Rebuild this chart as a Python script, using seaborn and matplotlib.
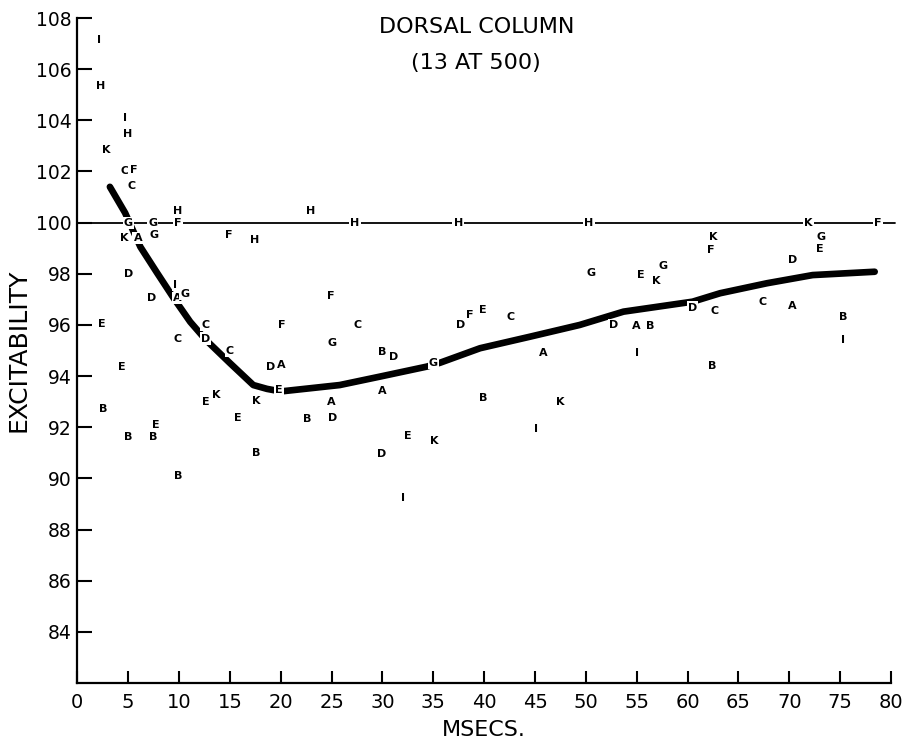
import matplotlib
matplotlib.use("Agg")
import matplotlib.pyplot as plt
import numpy as np
import pandas as pd
import seaborn as sns

# letters plotted as data points (one letter per subject)
pt_label = ["I", "H", "I", "H", "K", "C", "F", "C", "G", "G", "H", "F", "K", "A", "G", "F", "H",
            "D", "I", "A", "G", "D", "E", "F", "C", "C", "D", "C", "D", "A", "E", "E", "E", "K", "K",
            "E", "B", "E", "B", "B", "B", "B",
            "H", "H", "H",
            "F", "C", "G", "B", "D", "G", "D", "F", "E", "C", "A", "A", "A", "D", "B", "B", "K", "I",
            "E", "K", "D", "I",
            "H", "K", "F", "K", "F", "G", "E",
            "G", "E", "K", "G", "D", "D", "A", "B", "D", "C", "C", "A", "B", "I", "I", "B"]
pt_msec = [2.15, 2.25, 4.7, 4.9, 2.8, 4.6, 5.5, 5.3, 5.0, 7.4, 9.9, 9.9, 4.6, 5.95, 7.5, 14.9, 17.4,
           5.0, 9.6, 9.8, 10.6, 7.3, 2.45, 20.05, 12.6, 9.9, 12.6, 15.0, 19.05, 20.05, 4.4, 19.85, 12.6, 13.7, 17.6,
           15.8, 2.55, 7.7, 5.0, 7.5, 17.6, 9.96,
           22.9, 27.3, 37.45,
           24.95, 27.6, 25.0, 29.95, 31.05, 35.0, 37.65, 38.6, 39.9, 42.6, 45.8, 29.95, 25.0, 25.1, 22.6, 39.9, 47.5, 45.1,
           32.5, 35.1, 29.95, 32.0,
           50.3, 71.9, 78.7, 62.5, 62.3, 73.1, 73.0,
           50.5, 55.4, 56.9, 57.6, 70.3, 52.7, 55.0, 56.3, 60.5, 62.7, 67.4, 70.3, 75.3, 75.3, 55.0, 62.4]
pt_exc = [107.15, 105.35, 104.1, 103.45, 102.85, 102.0, 102.07, 101.45, 100.0, 100.0, 100.47, 100.0, 99.4, 99.4, 99.5, 99.5, 99.33,
          98.0, 97.55, 97.05, 97.2, 97.07, 96.05, 95.98, 96.0, 95.47, 95.47, 95.0, 94.34, 94.42, 94.37, 93.45, 93.0, 93.25, 93.04,
          92.38, 92.7, 92.07, 91.6, 91.6, 90.98, 90.08,
          100.47, 100.0, 100.0,
          97.15, 96.0, 95.3, 94.96, 94.76, 94.5, 96.0, 96.37, 96.6, 96.33, 94.9, 93.4, 93.0, 92.38, 92.34, 93.16, 92.97, 91.95,
          91.64, 91.48, 90.94, 89.22,
          100.0, 100.0, 100.0, 99.42, 98.92, 99.45, 98.95,
          98.05, 97.97, 97.7, 98.32, 98.55, 95.98, 95.94, 95.94, 96.68, 96.56, 96.9, 96.76, 96.3, 95.4, 94.9, 94.38]

# smoothed mean curve
curve_msec = [3.2, 4.7, 6.2, 7.85, 9.4, 11.1, 12.65, 15.0, 17.3, 18.65, 20.0, 25.8, 29.75, 34.35, 35.65,
              39.6, 44.5, 49.4, 53.7, 60.5, 63.2, 67.8, 72.3, 78.4]
curve_exc = [101.4, 100.38, 99.05, 98.03, 97.09, 96.12, 95.41, 94.51, 93.65, 93.5, 93.4, 93.65, 93.98, 94.37, 94.52,
             95.09, 95.54, 96.0, 96.52, 96.91, 97.24, 97.63, 97.95, 98.08]

# control level
ref_msec = [0, 80.4]
ref_exc = [100, 100]

x_ticks = list(range(0, 81, 5))
y_ticks = list(range(84, 109, 2))

sns.set_style("ticks")
plt.rcParams['font.family'] = ['DejaVu Sans']
plt.rcParams.update({"text.color": "black", "axes.labelcolor": "black", "xtick.color": "black",
                     "ytick.color": "black", "axes.edgecolor": "black"})

fig = plt.figure(figsize=(9.11, 7.42), dpi=100)
ax = fig.add_axes([0.0849, 0.0795, 0.978 - 0.0849, 0.9757 - 0.0795])

sns.lineplot(x=ref_msec, y=ref_exc, ax=ax, color="black", linewidth=1.3, zorder=2)
ax.lines[-1].set_clip_on(False)
sns.lineplot(x=curve_msec, y=curve_exc, ax=ax, color="black", linewidth=4.8, sort=False,
             estimator=None, zorder=2)

for lab, xx, yy in zip(pt_label, pt_msec, pt_exc):
    ax.text(xx, yy, lab, ha="center", va="center", fontsize=8, fontweight="bold", zorder=3,
            bbox=dict(boxstyle="square,pad=0.1", facecolor="white", edgecolor="none"))

ax.set_xlim(0, 80)
ax.set_ylim(82, 108)
ax.set_xticks(x_ticks)
ax.set_yticks(y_ticks)
ax.tick_params(axis="x", direction="in", length=9, width=1.5, labelsize=14, pad=7)
ax.tick_params(axis="y", direction="in", length=11, width=1.5, labelsize=13.5, pad=4)
sns.despine(ax=ax)
for s in ["left", "bottom"]:
    ax.spines[s].set_linewidth(1.6)

ax.set_xlabel("MSECS.", fontsize=16, labelpad=6)
ax.set_ylabel("EXCITABILITY", fontsize=18, labelpad=4)

fig.text(0.523, 0.9636, "DORSAL COLUMN", ha="center", va="center", fontsize=16)
fig.text(0.522, 0.915, "(13 AT 500)", ha="center", va="center", fontsize=16)

fig.savefig("out.png", dpi=100)
